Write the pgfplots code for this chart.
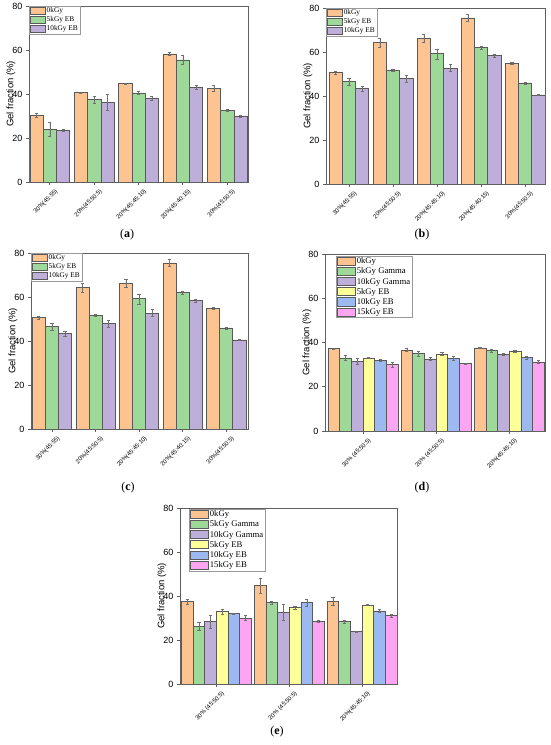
\documentclass[border=0pt]{standalone}
\usepackage{pgfplots}
\pgfplotsset{compat=1.18}
\usepackage{pgfplotstable}
\usepackage{fontspec}
\setmainfont{Liberation Sans}
\newfontfamily\serif{Liberation Serif}
\definecolor{cOr}{HTML}{FDC491}
\definecolor{cGr}{HTML}{9ED99A}
\definecolor{cPu}{HTML}{BDAEDA}
\definecolor{cYe}{HTML}{FFFF99}
\definecolor{cBl}{HTML}{9DB9F2}
\definecolor{cPi}{HTML}{FCA6F2}
\definecolor{barline}{HTML}{5A5A5A}
\definecolor{axline}{HTML}{606060}
\definecolor{errc}{HTML}{707070}

\pgfplotstableread{
x o oe g ge p pe
0 30.3 1.0 24.0 3.0 23.5 0.3
1 40.7 0.3 37.5 1.5 36.2 3.5
2 44.7 0.2 40.5 0.8 38.2 1.0
3 58.2 0.7 55.5 2.0 43.0 1.0
4 42.6 1.3 32.5 0.5 30.0 0.5
}\dataA
\pgfplotstableread{
x o oe g ge p pe
0 50.6 0.5 46.5 1.5 43.3 1.2
1 64.2 2.0 51.8 0.5 48.0 1.5
2 66.3 1.7 59.2 2.3 52.7 1.6
3 75.5 1.7 62.0 0.6 58.3 0.5
4 55.0 0.5 46.0 0.5 40.5 0.3
}\dataB
\pgfplotstableread{
x o oe g ge p pe
0 50.6 0.5 46.5 1.5 43.3 1.2
1 64.2 2.0 51.8 0.5 48.0 1.5
2 66.3 1.7 59.2 2.3 52.7 1.6
3 75.5 1.7 62.0 0.6 58.3 0.5
4 55.0 0.5 46.0 0.5 40.5 0.3
}\dataC
\pgfplotstableread{
x o oe g ge p pe y ye b be k ke
0 37.3 0.3 33.0 1.2 31.5 1.3 33.0 0.3 32.0 0.3 30.0 1.2
1 36.7 0.5 35.0 1.2 32.6 0.6 34.8 0.7 32.8 1.0 30.4 0.3
2 37.6 0.3 36.3 0.8 34.7 0.4 36.0 0.3 33.1 0.5 31.2 0.7
}\dataD
\pgfplotstableread{
x o oe g ge p pe y ye b be k ke
0 37.4 1.3 26.3 2.0 28.5 3.0 33.0 1.2 32.0 0.1 30.0 1.2
1 44.7 3.3 37.0 0.8 32.7 3.5 34.8 0.6 37.0 1.7 28.5 0.3
2 37.6 2.0 28.4 0.7 23.8 0.2 36.0 0.2 33.2 0.6 31.2 0.7
}\dataE

\pgfplotsset{
  panel/.style={
    scale only axis, ybar,
    ymin=0, ymax=80, ytick={0,20,40,60,80},
    axis line style={axline, line width=0.9pt},
    tick align=outside, xtick pos=bottom, ytick pos=left,
    major tick length=3pt,
    tick style={axline, line width=0.7pt},
    xticklabel style={xshift=5pt, yshift=-2pt, rotate=45, anchor=north east, font=\fontsize{6}{6}\selectfont, inner sep=1pt},
    yticklabel style={font=\fontsize{9}{9}\selectfont},
    /pgf/number format/assume math mode=true,
    ylabel={Gel fraction (\%)},
    ylabel style={font=\fontsize{9.5}{10}\selectfont, at={([xshift=-18pt]axis description cs:0,0.5)}, anchor=center},
    legend cell align=left,
    legend style={at={(0,1)}, anchor=north west, draw=gray!80, line width=0.5pt,
      font=\serif\fontsize{7.3}{7.5}\selectfont, inner xsep=1pt, inner ysep=0.5pt,
      row sep=0.4pt, nodes={inner sep=1pt}},
    legend image code/.code={\draw[#1, draw=barline, line width=0.5pt] (0pt,-3pt) rectangle (15pt,3.8pt);},
    every axis plot/.append style={draw=barline, line width=0.6pt},
    error bars/error bar style={errc, line width=0.4pt},
    error bars/error mark options={errc, rotate=90, mark size=1.6pt, line width=0.4pt},
  },
  three/.style={bar width=0.3, xtick={0,1,2,3,4},
    xticklabels={30\%(45:55),20\%(45:50:5),20\%(45:45:10),20\%(45:40:15),30\%(45:50:5)}},
  six/.style={bar width=0.16, xtick={0,1,2},
    xticklabels={30\% (45:50:5),20\% (45:50:5),20\%(45:45:10)},
    legend style={font=\serif\fontsize{8.7}{9}\selectfont, row sep=0.6pt},
    legend image code/.code={\draw[#1, draw=barline, line width=0.5pt] (0pt,-3.6pt) rectangle (18pt,4.6pt);}},
}
\newcommand{\onebar}[4]{\addplot[fill=#4, bar shift=#3, error bars/.cd, y dir=both, y explicit] table[x=x, y=#2, y error=#2e]{#1};}
\newcommand{\threeset}[1]{%
  \onebar{#1}{o}{-0.3}{cOr}\addlegendentry{0kGy}
  \onebar{#1}{g}{0}{cGr}\addlegendentry{5kGy EB}
  \onebar{#1}{p}{0.3}{cPu}\addlegendentry{10kGy EB}}
\newcommand{\sixset}[1]{%
  \onebar{#1}{o}{-0.4}{cOr}\addlegendentry{0kGy}
  \onebar{#1}{g}{-0.24}{cGr}\addlegendentry{5kGy Gamma}
  \onebar{#1}{p}{-0.08}{cPu}\addlegendentry{10kGy Gamma}
  \onebar{#1}{y}{0.08}{cYe}\addlegendentry{5kGy EB}
  \onebar{#1}{b}{0.24}{cBl}\addlegendentry{10kGy EB}
  \onebar{#1}{k}{0.4}{cPi}\addlegendentry{15kGy EB}}

\begin{document}
\begin{tikzpicture}[x=1pt,y=1pt]
\useasboundingbox (0,0) rectangle (550,745);
\fill[white] (0,0) rectangle (550,745);

\begin{axis}[panel, three, at={(29pt,563pt)}, anchor=south west, width=219pt, height=176pt,
  xmin=-0.47, xmax=4.47]
\threeset{\dataA}
\end{axis}

\begin{axis}[panel, three, at={(326pt,561pt)}, anchor=south west, width=219pt, height=176pt,
  xmin=-0.52, xmax=4.45]
\threeset{\dataB}
\end{axis}

\begin{axis}[panel, three, at={(31pt,316pt)}, anchor=south west, width=217pt, height=176pt,
  xmin=-0.48, xmax=4.5]
\threeset{\dataC}
\end{axis}

\begin{axis}[panel, six, at={(325pt,314pt)}, anchor=south west, width=220pt, height=177pt,
  xmin=-0.52, xmax=2.49, legend style={at={(0.05,0.99)}, anchor=north west}]
\sixset{\dataD}
\end{axis}

\begin{axis}[panel, six, at={(180pt,61pt)}, anchor=south west, width=217pt, height=176pt,
  xmin=-0.5, xmax=2.48, legend style={at={(0.042,0.995)}, anchor=north west}]
\sixset{\dataE}
\end{axis}

\node[font=\serif\fontsize{12}{12}\selectfont] at (127,510) {(\textbf{a})};
\node[font=\serif\fontsize{12}{12}\selectfont] at (422,510) {(\textbf{b})};
\node[font=\serif\fontsize{12}{12}\selectfont] at (128,257) {(\textbf{c})};
\node[font=\serif\fontsize{12}{12}\selectfont] at (422,257) {(\textbf{d})};
\node[font=\serif\fontsize{12}{12}\selectfont] at (277,13) {(\textbf{e})};
\end{tikzpicture}
\end{document}
